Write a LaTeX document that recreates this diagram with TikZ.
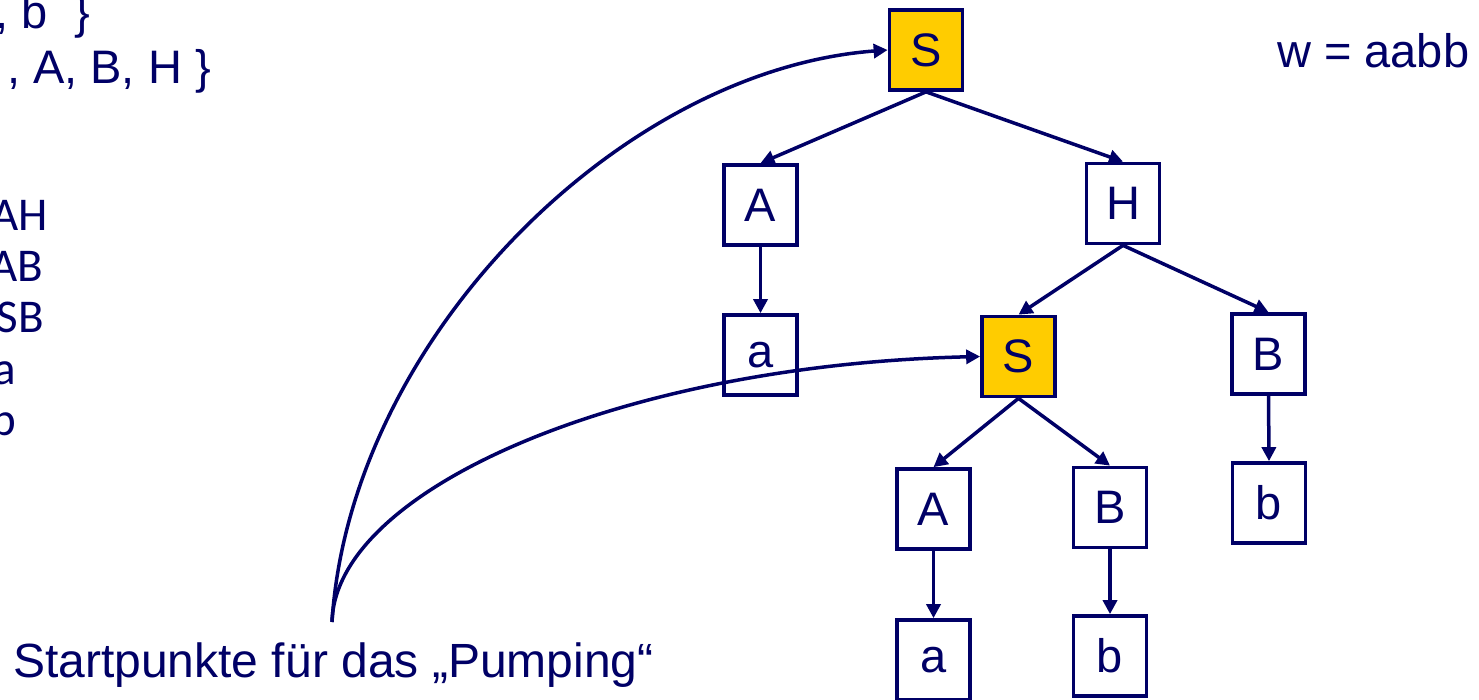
\documentclass[tikz,border=0pt]{standalone}
\usepackage{fontspec}
\setmainfont{Liberation Sans}
\newfontfamily\rulefont{Carlito}
\usetikzlibrary{arrows.meta}
\definecolor{treeblue}{RGB}{0,0,102}
\definecolor{symbolgold}{RGB}{255,204,0}
\begin{document}
\begin{tikzpicture}[x=1pt,y=-1pt,
  every node/.style={text=treeblue,font=\fontsize{47}{56}\selectfont,inner sep=0pt},
  sym/.style={draw=treeblue,line width=3.7pt,minimum width=73pt,minimum height=80pt,fill=white},
  startsym/.style={sym,fill=symbolgold},
  edge/.style={draw=treeblue,line width=3.5pt,-{Triangle[length=14pt,width=14pt]}},
  rule/.style={anchor=base east,font=\rulefont\fontsize{47}{56}\selectfont},
  plain/.style={anchor=base east},
]
\useasboundingbox (0,0) rectangle (1479,699);

% grammar (left margin)
\node[plain] (terms) at (90,28) {, b\ \ \}};
\node[plain] (nonterms) at (211,83) {, A, B, H \}};
\node[rule] (r1) at (48,230) {AH};
\node[rule] (r2) at (43,281) {AB};
\node[rule] (r3) at (44,332) {SB};
\node[rule] (r4) at (16,384) {a};
\node[rule] (r5) at (16,435) {b};

% derivation tree
\node[startsym] (S1) at (926,50) {S};
\node[sym] (A1) at (760.5,205) {A};
\node[sym] (H) at (1123,203.5) {H};
\node[sym] (a1) at (760.5,355) {a};
\node[startsym] (S2) at (1018.5,356.5) {S};
\node[sym] (B1) at (1268.5,354) {B};
\node[sym] (A2) at (933.5,509) {A};
\node[sym] (B2) at (1110,507.5) {B};
\node[sym] (b1) at (1269,503) {b};
\node[sym] (a2) at (933.5,660) {a};
\node[sym] (b2) at (1110,656) {b};

\draw[edge] (S1.south) -- (A1.north);
\draw[edge] (S1.south) -- (H.north);
\draw[edge] (A1.south) -- (a1.north);
\draw[edge] (H.south) -- (S2.north);
\draw[edge] (H.south) -- (B1.north);
\draw[edge] (S2.south) -- (A2.north);
\draw[edge] (S2.south) -- (B2.north);
\draw[edge] (B1.south) -- (b1.north);
\draw[edge] (A2.south) -- (a2.north);
\draw[edge] (B2.south) -- (b2.north);

% word and pumping annotation
\node[anchor=base west] (word) at (1277,67) {w = aabb};
\node[anchor=base west,font=\fontsize{48}{56}\selectfont] (note) at (13,677) {Startpunkte für das „Pumping“};
\coordinate (pump) at (332,622);
\draw[edge] (pump) .. controls (350,340) and (620,70) .. (S1.west);
\draw[edge] (pump) .. controls (335,490) and (620,365) .. (S2.west);
\end{tikzpicture}
\end{document}
